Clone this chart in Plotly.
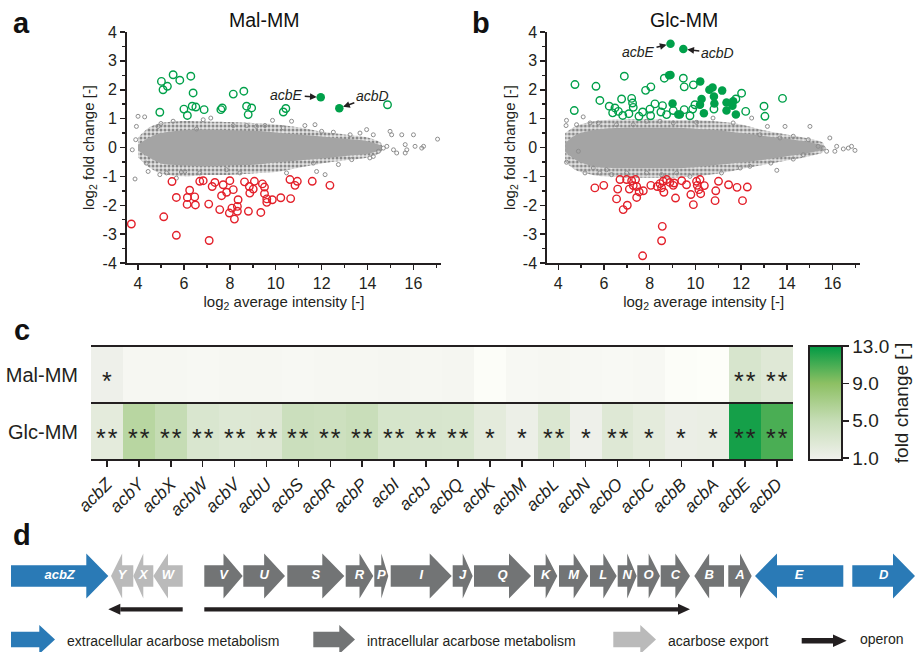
import plotly.graph_objects as go

W, H = 919, 652
FONT = "Liberation Sans, Arial, sans-serif"
INK = "#231f20"
GREEN = "#00a04a"
RED = "#e3202a"
GRAYPT = "#8e8e8e"

# ---------------- Panel a : Mal-MM ----------------
a_up_x = [5.02, 5.09, 5.28, 5.53, 5.82, 6.30, 6.40, 4.95, 6.00, 6.15, 6.36, 6.52, 6.88, 7.61, 7.67,
          8.15, 8.61, 8.73, 8.95, 8.80, 10.33, 10.44, 14.87]
a_up_y = [2.29, 2.00, 2.12, 2.52, 2.33, 2.47, 1.89, 1.22, 1.33, 1.11, 1.43, 1.40, 1.31, 1.31, 1.37,
          1.85, 1.95, 1.43, 1.37, 1.14, 1.23, 1.35, 1.48]
a_acb_x = [11.96, 12.77]
a_acb_y = [1.74, 1.36]
a_down_x = [3.71, 5.12, 5.48, 5.67, 5.67, 6.25, 6.15, 6.47, 6.14, 6.50, 6.69, 6.84, 7.08, 7.10, 7.23,
            7.35, 7.56, 7.64, 7.71, 7.86, 8.00, 7.98, 8.15, 8.09, 8.20, 8.33, 8.36, 8.33, 8.64, 8.81,
            8.85, 8.87, 9.02, 9.07, 9.35, 9.42, 9.51, 9.51, 9.61, 9.61, 9.85, 10.22, 10.62, 10.84,
            10.94, 10.65, 11.59, 12.36]
a_down_y = [-2.65, -2.40, -1.18, -1.73, -3.04, -1.48, -1.73, -1.71, -1.97, -1.99, -1.17, -1.15, -1.96,
            -3.22, -1.35, -1.21, -2.15, -1.67, -1.29, -1.55, -1.15, -2.27, -1.46, -2.10, -2.48, -2.21,
            -1.81, -2.04, -1.19, -2.21, -1.35, -1.58, -1.44, -1.17, -2.25, -1.26, -1.37, -1.60, -1.78,
            -1.90, -1.81, -1.74, -1.11, -1.31, -1.17, -1.77, -1.17, -1.31]
a_bg_x = [4.00, 4.29, 3.93, 3.90, 3.75, 3.87, 4.36, 4.44, 4.95, 4.87, 5.00, 5.53, 5.67, 5.89, 6.04,
          6.69, 6.84, 7.17, 8.44, 9.16, 9.86, 10.69, 11.27, 11.71, 11.64, 11.78, 12.00, 12.15, 12.73,
          13.31, 13.96, 14.10, 14.25, 14.69, 14.98, 15.05, 15.27, 15.49, 15.64, 15.71, 16.00, 16.07,
          16.36, 16.44, 17.05, 14.47, 14.84, 15.13, 15.64, 14.25, 13.24, 10.47, 7.85, 5.24, 6.55,
          8.15, 8.73, 9.53, 10.33, 12.51, 13.67]
a_bg_y = [1.08, 1.06, 0.73, 0.27, -0.08, -1.09, -0.54, -0.83, -0.94, 0.73, 0.83, 0.91, -1.06, -0.85,
          -0.83, -0.88, 0.96, 1.02, -0.88, 0.73, 0.94, 0.91, 0.76, 0.79, -0.54, -0.83, 0.56, -0.94,
          -0.59, -0.42, 0.62, -0.36, 0.44, -0.02, 0.56, 0.44, -0.19, 0.44, 0.10, -0.08, 0.44, 0.04,
          -0.02, 0.04, 0.29, -0.13, 0.04, -0.08, -0.19, -0.31, 0.44, -0.88, -0.77, -0.88, 0.64, 0.76,
          0.76, 0.76, 0.68, 0.53, 0.50]
# envelope of the dense grey cloud
a_cloud_x = [4.0, 4.5, 5.0, 6.0, 7.0, 8.0, 9.0, 10.0, 11.0, 12.0, 13.0, 14.0, 14.6]
a_halo_hi = [0.35, 0.70, 0.85, 0.92, 0.90, 0.88, 0.85, 0.80, 0.70, 0.55, 0.45, 0.35, 0.15]
a_halo_lo = [-0.35, -0.70, -0.90, -1.00, -0.95, -0.95, -0.90, -0.85, -0.70, -0.55, -0.45, -0.35, -0.15]
a_core_hi = [0.10, 0.35, 0.50, 0.60, 0.62, 0.60, 0.58, 0.52, 0.45, 0.38, 0.30, 0.22, 0.05]
a_core_lo = [-0.10, -0.35, -0.55, -0.62, -0.65, -0.62, -0.60, -0.52, -0.45, -0.38, -0.30, -0.22, -0.05]

# ---------------- Panel b : Glc-MM ----------------
b_up_x = [4.73, 4.70, 5.65, 5.82, 6.23, 6.38, 6.48, 6.63, 6.77, 6.82, 6.89, 7.09, 7.21, 7.25, 7.28,
          7.53, 7.69, 7.82, 8.05, 8.01, 8.04, 8.23, 8.49, 8.56, 8.64, 8.74, 9.03, 9.47, 9.51, 9.51,
          9.76, 9.91, 9.88, 9.98, 10.81, 11.77, 12.02, 12.20, 13.00, 13.04, 13.81]
b_up_y = [2.18, 1.28, 2.12, 1.63, 1.43, 1.20, 1.37, 1.25, 1.68, 1.11, 2.47, 1.17, 1.70, 1.54, 1.39,
          1.08, 1.23, 1.98, 2.10, 1.33, 1.10, 1.51, 1.23, 1.45, 2.40, 1.14, 1.28, 2.40, 2.10, 1.31,
          1.10, 2.17, 1.33, 1.48, 1.33, 1.68, 1.88, 1.25, 1.43, 1.08, 1.70]
b_acb_x = [8.91, 9.47, 8.91, 8.85, 9.00, 9.25, 9.32, 10.21, 10.27, 10.20, 10.37, 10.61, 10.75, 10.81,
           10.83, 11.17, 11.36, 11.36, 11.65, 11.62, 11.77]
b_acb_y = [3.59, 3.41, 2.51, 2.50, 1.52, 1.14, 1.14, 2.29, 1.68, 1.48, 1.19, 2.00, 2.08, 1.77,
           1.52, 1.97, 1.56, 1.28, 1.60, 1.45, 1.14]
b_down_x = [5.60, 5.99, 6.55, 6.60, 6.70, 6.84, 7.02, 6.99, 7.11, 7.21, 7.28, 7.38, 7.43, 7.43, 7.54,
            7.72, 7.69, 8.05, 8.33, 8.45, 8.52, 8.59, 8.62, 8.55, 8.52, 8.74, 8.88, 9.03, 9.07, 9.13,
            9.40, 9.61, 9.80, 9.91, 10.05, 10.20, 10.08, 10.15, 10.23, 10.39, 10.89, 10.86, 11.01,
            11.45, 11.82, 12.06, 12.27]
b_down_y = [-1.40, -1.31, -1.78, -1.44, -1.11, -2.15, -2.00, -1.11, -1.44, -1.15, -1.32, -1.11, -1.35,
            -1.73, -1.54, -1.50, -3.75, -1.31, -1.35, -1.25, -1.40, -1.17, -1.55, -2.73, -3.23, -1.11,
            -1.21, -1.31, -1.23, -1.75, -1.15, -1.29, -1.63, -1.98, -1.17, -1.11, -1.31, -1.46, -1.60,
            -1.32, -1.50, -1.84, -1.17, -1.29, -1.38, -1.84, -1.37]
b_bg_x = [4.36, 4.34, 4.36, 4.80, 4.88, 5.09, 5.17, 5.39, 5.53, 5.75, 5.82, 6.11, 6.33, 6.99, 7.28,
          7.86, 8.52, 9.03, 9.76, 10.05, 10.77, 11.14, 11.65, 11.96, 12.46, 13.15, 13.30, 13.56,
          13.92, 14.28, 15.01, 14.72, 15.37, 15.74, 15.88, 16.18, 16.47, 16.69, 16.83, 16.98, 16.10,
          15.59, 14.94, 14.28, 12.82, 13.70, 12.38, 9.18, 7.86, 8.45, 6.55]
b_bg_y = [0.94, 0.76, -0.51, 0.79, -0.13, 1.06, -0.88, 0.85, -0.71, 0.85, -0.88, -0.77, -0.94, -0.88,
          0.79, 0.91, -0.94, 0.85, -1.00, 0.87, 1.02, -0.88, 0.85, -0.71, 1.02, 0.73, -0.54, -0.79,
          0.73, -0.40, 0.73, -0.25, 0.04, -0.13, 0.33, 0.04, -0.05, -0.02, 0.04, -0.10, -0.13, -0.02,
          0.27, 0.39, 0.44, 0.33, -0.65, -0.88, -0.88, 0.91, 0.79]
b_cloud_x = [4.3, 4.8, 5.5, 6.0, 7.0, 8.0, 9.0, 10.0, 11.0, 12.0, 13.0, 14.0, 15.0, 15.6]
b_halo_hi = [0.50, 0.75, 0.90, 0.95, 0.98, 0.98, 0.95, 0.95, 0.90, 0.80, 0.60, 0.45, 0.30, 0.15]
b_halo_lo = [-0.50, -0.80, -0.95, -1.00, -1.05, -1.05, -1.05, -1.00, -0.90, -0.75, -0.60, -0.45, -0.30, -0.15]
b_core_hi = [0.15, 0.45, 0.60, 0.65, 0.68, 0.68, 0.68, 0.65, 0.60, 0.50, 0.40, 0.30, 0.18, 0.05]
b_core_lo = [-0.15, -0.45, -0.65, -0.70, -0.72, -0.72, -0.72, -0.68, -0.60, -0.52, -0.42, -0.30, -0.18, -0.05]

# ---------------- Panel c : heat map ----------------
genes = ["acbZ", "acbY", "acbX", "acbW", "acbV", "acbU", "acbS", "acbR", "acbP", "acbI", "acbJ",
         "acbQ", "acbK", "acbM", "acbL", "acbN", "acbO", "acbC", "acbB", "acbA", "acbE", "acbD"]
conditions = ["Glc-MM", "Mal-MM"]
fc_glc = [2.1, 6.0, 5.1, 3.1, 2.75, 2.8, 4.5, 4.3, 4.7, 3.4, 3.3, 3.2, 2.1, 1.3, 2.95, 1.1, 2.65,
          2.1, 1.4, 1.5, 12.4, 10.9]
fc_mal = [1.05, 0.9, 0.9, 0.88, 0.9, 0.9, 0.88, 0.9, 0.9, 0.92, 0.9, 0.92, 0.82, 0.88, 0.9, 0.88,
          0.87, 0.88, 0.82, 0.8, 3.3, 2.6]
sig_glc = ["**"] * 12 + ["*", "*", "**", "*", "**", "*", "*", "*", "**", "**"]
sig_mal = ["*"] + [""] * 19 + ["**", "**"]
cbar_ticks = [1, 5, 9, 13]

# ---------------- Panel d : gene cluster ----------------
gene_lab = ["acbZ", "Y", "X", "W", "V", "U", "S", "R", "P", "I", "J", "Q", "K", "M", "L", "N", "O",
            "C", "B", "A", "E", "D"]
gene_left = [11, 111, 133.3, 153.3, 204.3, 243.3, 287.3, 345.7, 374.3, 390.7, 452.7, 474, 534, 559,
             590, 617.7, 637.3, 660.7, 694.3, 728.3, 755, 852.3]
gene_right = [108.3, 133.3, 153.3, 182.7, 242.7, 285, 344.3, 373.3, 388.3, 451.7, 472.7, 531, 557.3,
              588.3, 616.7, 636.7, 660, 690, 724, 751.7, 843.3, 915]
gene_strand = [1, -1, -1, -1, 1, 1, 1, 1, 1, 1, 1, 1, 1, 1, 1, 1, 1, 1, -1, 1, -1, 1]
gene_role = ["ext", "exp", "exp", "exp"] + ["int"] * 14 + ["int", "int", "ext", "ext"]
operon_from = [182.7, 204.3]
operon_to = [108.3, 690]
legend_role = ["ext", "int", "exp"]
legend_text = ["extracellular acarbose metabolism", "intracellular acarbose metabolism", "acarbose export"]
legend_left = [11, 313.3, 613.3]
legend_right = [55, 355, 656]

ROLE_COL = {"ext": "#2a7ab6", "int": "#727475", "exp": "#bababa"}


def dom_x(p0, p1):
    return [p0 / W, p1 / W]


def dom_y(top, bottom):
    return [1 - bottom / H, 1 - top / H]


fig = go.Figure()


def cloud(xs, hi, lo, xa, ya, color=None, pattern=None):
    kw = dict(fillcolor=color) if color else dict(fillpattern=pattern, fillcolor="rgba(0,0,0,0)")
    fig.add_trace(go.Scatter(x=xs + xs[::-1], y=hi + lo[::-1], mode="lines", fill="toself",
                             line=dict(width=0, shape="spline", smoothing=0.8),
                             hoverinfo="skip", showlegend=False, xaxis=xa, yaxis=ya, **kw))


def scatter_panel(xa, ya, cx, hh, hl, ch, cl, bgx, bgy, dx, dy, ux, uy, fx, fy):
    cloud(cx, hh, hl, xa, ya, pattern=dict(shape=".", fgcolor="#8a8a8a", bgcolor="#e2e2e2",
                                           size=4, solidity=0.45))
    cloud(cx, ch, cl, xa, ya, color="#a4a4a4")
    fig.add_trace(go.Scatter(x=bgx, y=bgy, mode="markers", xaxis=xa, yaxis=ya, showlegend=False,
                             marker=dict(symbol="circle-open", size=4, color=GRAYPT, line=dict(width=1))))
    fig.add_trace(go.Scatter(x=dx, y=dy, mode="markers", xaxis=xa, yaxis=ya, showlegend=False,
                             marker=dict(symbol="circle-open", size=7.5, color=RED, line=dict(width=1.4))))
    fig.add_trace(go.Scatter(x=ux, y=uy, mode="markers", xaxis=xa, yaxis=ya, showlegend=False,
                             marker=dict(symbol="circle-open", size=7.5, color=GREEN, line=dict(width=1.4))))
    fig.add_trace(go.Scatter(x=fx, y=fy, mode="markers", xaxis=xa, yaxis=ya, showlegend=False,
                             marker=dict(symbol="circle", size=8.5, color=GREEN, line=dict(width=0))))


scatter_panel("x", "y", a_cloud_x, a_halo_hi, a_halo_lo, a_core_hi, a_core_lo, a_bg_x, a_bg_y,
              a_down_x, a_down_y, a_up_x, a_up_y, a_acb_x, a_acb_y)
scatter_panel("x2", "y2", b_cloud_x, b_halo_hi, b_halo_lo, b_core_hi, b_core_lo, b_bg_x, b_bg_y,
              b_down_x, b_down_y, b_up_x, b_up_y, b_acb_x, b_acb_y)

# heat map
fig.add_trace(go.Heatmap(
    z=[fc_glc, fc_mal], x=genes, y=conditions, xaxis="x3", yaxis="y3",
    zmin=0.8, zmax=13,
    colorscale=[[0, "#fdfef9"], [0.2 / 12.2, "#eff0eb"], [4.2 / 12.2, "#c6ddb6"],
                [8.2 / 12.2, "#8dc063"], [1, "#009a44"]],
    colorbar=dict(xref="container", yref="container",
                  x=809 / W, xanchor="left", y=1 - 403 / H, yanchor="middle",
                  len=114, lenmode="pixels", thickness=33, thicknessmode="pixels",
                  outlinewidth=2, outlinecolor=INK, xpad=0, ypad=0,
                  ticks="outside", ticklen=6, tickwidth=1.5, tickcolor=INK,
                  tickvals=cbar_ticks, ticktext=[f"{v:.1f}" for v in cbar_ticks],
                  tickfont=dict(size=19, color=INK, family=FONT),
                  title=dict(text="fold change [-]", side="right", font=dict(size=19, color=INK, family=FONT))),
    hoverinfo="skip"))

# gene labels (text trace on the gene-map axes)
mids = [(l + r) / 2 for l, r in zip(gene_left, gene_right)]
fig.add_trace(go.Scatter(x=mids, y=[36] * len(mids), mode="text", xaxis="x4", yaxis="y4",
                         text=[f"<b><i>{g}</i></b>" for g in gene_lab], showlegend=False,
                         textfont=dict(size=13, color="white", family=FONT), hoverinfo="skip"))

shapes = []
annotations = []


def arrow_path(left, right, strand, cy, bh, hh, head):
    if strand > 0:
        hb = right - head
        pts = [(left, cy - bh), (hb, cy - bh), (hb, cy - hh), (right, cy), (hb, cy + hh),
               (hb, cy + bh), (left, cy + bh)]
    else:
        hb = left + head
        pts = [(right, cy - bh), (hb, cy - bh), (hb, cy - hh), (left, cy), (hb, cy + hh),
               (hb, cy + bh), (right, cy + bh)]
    return "M " + " L ".join(f"{x:.2f},{y:.2f}" for x, y in pts) + " Z"


for l, r, s, role in zip(gene_left, gene_right, gene_strand, gene_role):
    head = min(22.0, 0.5 * (r - l))
    shapes.append(dict(type="path", xref="x4", yref="y4", path=arrow_path(l, r, s, 36, 10.8, 22.5, head),
                       fillcolor=ROLE_COL[role], line=dict(width=0), layer="below"))

# operon arrows
for f, t in zip(operon_from, operon_to):
    sgn = 1 if t > f else -1
    hb = t - sgn * 12
    shapes.append(dict(type="line", xref="x4", yref="y4", x0=f, x1=hb, y0=69.3, y1=69.3,
                       line=dict(color=INK, width=4.3)))
    shapes.append(dict(type="path", xref="x4", yref="y4",
                       path=f"M {hb},{69.3 - 5.5} L {t},69.3 L {hb},{69.3 + 5.5} Z",
                       fillcolor=INK, line=dict(width=0)))

# legend glyphs and texts
for l, r, role, txt in zip(legend_left, legend_right, legend_role, legend_text):
    shapes.append(dict(type="path", xref="x4", yref="y4",
                       path=arrow_path(l, r, 1, 99.5, 7.8, 14.5, 15.7),
                       fillcolor=ROLE_COL[role], line=dict(width=0)))
    annotations.append(dict(x=r + 10, y=100.5, xref="x4", yref="y4", text=txt, showarrow=False,
                            xanchor="left", yanchor="middle", font=dict(size=14, color=INK)))
shapes.append(dict(type="line", xref="x4", yref="y4", x0=801.7, x1=834, y0=100.7, y1=100.7,
                   line=dict(color=INK, width=5.5)))
shapes.append(dict(type="path", xref="x4", yref="y4", path="M 833,94.4 L 846.7,100.7 L 833,107 Z",
                   fillcolor=INK, line=dict(width=0)))
annotations.append(dict(x=858.3, y=98.5, xref="x4", yref="y4", text="operon", showarrow=False,
                        xanchor="left", yanchor="middle", font=dict(size=14, color=INK)))

# heat-map row lines
for yy in [0, 0.5, 1]:
    shapes.append(dict(type="line", xref="x3 domain", yref="y3 domain", x0=0, x1=1, y0=yy, y1=yy,
                       line=dict(color=INK, width=2)))

# significance stars
for g, s1, s2 in zip(genes, sig_glc, sig_mal):
    for cond, s in (("Glc-MM", s1), ("Mal-MM", s2)):
        if s:
            annotations.append(dict(x=g, y=cond, xref="x3", yref="y3", text="\u200a".join(s),
                                    showarrow=False, yshift=-6, font=dict(size=25, color=INK)))

# point labels
ann_font = dict(size=14, color=INK)
for xa, ya, px_, py_, txt, ax, ay in [("x", "y", a_acb_x[0], a_acb_y[0], "<i>acbE</i>", -34, -2),
                                      ("x", "y", a_acb_x[1], a_acb_y[1], "<i>acbD</i>", 33, -12),
                                      ("x2", "y2", b_acb_x[0], b_acb_y[0], "<i>acbE</i>", -32, 8),
                                      ("x2", "y2", b_acb_x[1], b_acb_y[1], "<i>acbD</i>", 34, 4)]:
    annotations.append(dict(x=px_, y=py_, xref=xa, yref=ya, text=txt, showarrow=True, ax=ax, ay=ay,
                            arrowhead=2, arrowsize=0.9, arrowwidth=1.5, arrowcolor=INK, standoff=4,
                            font=ann_font))

# titles and panel letters
for txt, x, y, size, bold in [("Mal-MM", 264, 20.3, 19.5, False), ("Glc-MM", 684, 20.3, 19.5, False),
                              ("a", 21.5, 22.6, 29, True), ("b", 481, 22.6, 29, True),
                              ("c", 21.5, 329.6, 29, True), ("d", 22, 534.6, 29, True)]:
    annotations.append(dict(x=x / W, y=1 - y / H, xref="paper", yref="paper",
                            text=f"<b>{txt}</b>" if bold else txt, showarrow=False,
                            xanchor="center", yanchor="middle", font=dict(size=size, color="#111")))

minor_common = dict(ticks="outside", ticklen=3, tickwidth=1.5, tickcolor=INK, showgrid=False)


def sc_xaxis(dom, anchor):
    return dict(domain=dom, anchor=anchor, range=[3.52, 17.2], showline=True, linewidth=2,
                linecolor=INK, ticks="outside", ticklen=5, tickwidth=1.5, tickcolor=INK,
                tickmode="linear", tick0=0, dtick=2, showgrid=False, zeroline=False, automargin=False,
                minor=dict(dtick=1, **minor_common), tickfont=dict(size=16, color=INK),
                title=dict(text="log<sub>2</sub> average intensity [-]", font=dict(size=15, color=INK),
                           standoff=5))


yt = list(range(-4, 5))


def sc_yaxis(dom, anchor):
    return dict(domain=dom, anchor=anchor, range=[-4, 4], showline=True, linewidth=2, linecolor=INK,
                ticks="outside", ticklen=5, tickwidth=1.5, tickcolor=INK, tickmode="array",
                tickvals=yt, ticktext=[str(v) for v in yt], showgrid=False, zeroline=False,
                automargin=False,
                minor=dict(dtick=0.5, **minor_common), tickfont=dict(size=16, color=INK),
                title=dict(text="log<sub>2</sub> fold change [-]", font=dict(size=15, color=INK),
                           standoff=4))


fig.update_layout(
    template="none",
    width=W, height=H, margin=dict(l=0, r=0, t=0, b=0, pad=0, autoexpand=False),
    paper_bgcolor="white", plot_bgcolor="white",
    font=dict(family=FONT, color=INK),
    showlegend=False,
    xaxis=sc_xaxis(dom_x(127, 441), "y"),
    yaxis=sc_yaxis(dom_y(32, 263), "x"),
    xaxis2=sc_xaxis(dom_x(547.3, 860), "y2"),
    yaxis2=sc_yaxis(dom_y(32, 263), "x2"),
    xaxis3=dict(domain=dom_x(91, 793), anchor="y3", type="category", tickmode="array",
                tickvals=genes, ticktext=[f"<i>{g}</i>" for g in genes], tickangle=-45,
                ticks="outside", ticklen=6, tickwidth=1.5, tickcolor=INK, showline=False,
                showgrid=False, zeroline=False, automargin=False, tickfont=dict(size=17.5, color=INK)),
    yaxis3=dict(domain=dom_y(346, 460), anchor="x3", type="category", ticks="outside", ticklen=8,
                tickcolor="rgba(0,0,0,0)", showline=False, showgrid=False, zeroline=False,
                automargin=False, tickfont=dict(size=20, color=INK)),
    xaxis4=dict(domain=[0, 1], anchor="y4", range=[0, W], visible=False, fixedrange=True,
                automargin=False, showgrid=False, zeroline=False),
    yaxis4=dict(domain=[0, 112 / H], anchor="x4", range=[112, 0], visible=False, fixedrange=True,
                automargin=False, showgrid=False, zeroline=False),
    shapes=shapes, annotations=annotations,
)

fig.write_html("out.html", config={"displayModeBar": False, "staticPlot": True},
               post_script="document.body.style.margin='0';document.body.style.overflow='hidden';")
